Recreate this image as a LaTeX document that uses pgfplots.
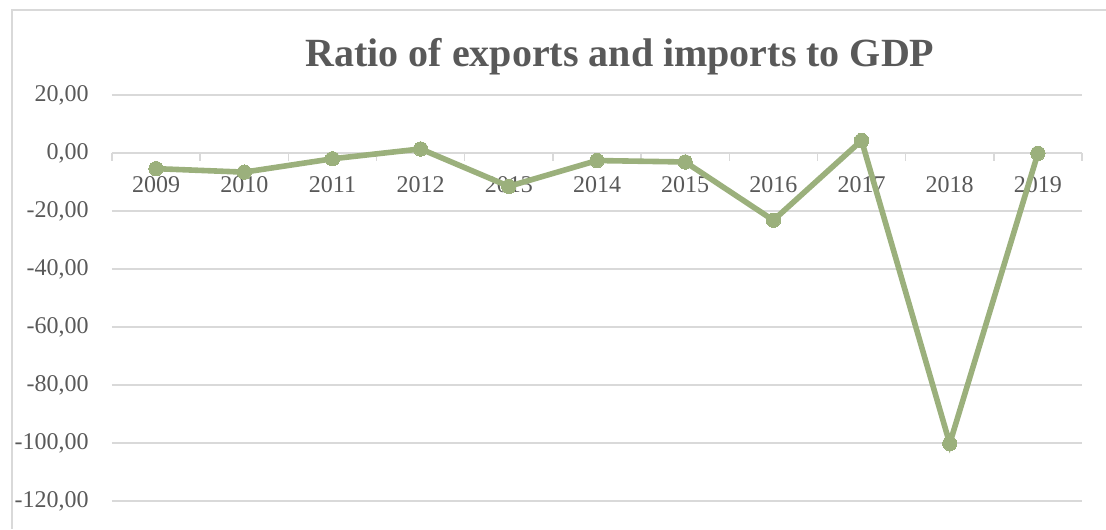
\documentclass[border=0pt]{standalone}
\usepackage{fontspec}
\setmainfont{Liberation Serif}
\usepackage{pgfplots}
\pgfplotsset{compat=1.18}
\definecolor{linegreen}{RGB}{155,176,124}
\definecolor{txtgray}{RGB}{89,89,89}
\definecolor{gridgray}{RGB}{217,217,217}
\begin{document}
\begin{tikzpicture}
\useasboundingbox (-56pt,-14pt) rectangle (497pt,250.5pt);
\draw[gridgray, line width=0.75pt] (-50pt,-14pt) -- (-50pt,245.5pt) -- (497pt,245.5pt);
\begin{axis}[
  at={(0pt,0pt)}, anchor=south west,
  scale only axis, width=485pt, height=203pt,
  xmin=-0.5, xmax=10.5, ymin=-120, ymax=20,
  clip=false,
  axis x line=middle, axis y line=left,
  x axis line style={-, gridgray, line width=0.75pt},
  y axis line style={draw=none},
  xtick={0,...,10},
  xticklabels={2009,2010,2011,2012,2013,2014,2015,2016,2017,2018,2019},
  minor xtick={-0.5,0.5,...,10.5},
  major x tick style={draw=none},
  minor x tick style={gridgray, line width=0.75pt},
  minor tick length=4pt,
  xtick align=outside,
  ytick={-120,-100,...,20},
  ytick style={draw=none},
  ymajorgrids,
  major grid style={gridgray, line width=0.75pt},
  /pgf/number format/.cd, fixed, fixed zerofill, precision=2, use comma, assume math mode=true,
  /pgfplots/.cd,
  tick label style={font=\fontsize{12}{13}\selectfont, text=txtgray},
  xticklabel style={yshift=-4pt},
  yticklabel style={xshift=-6pt},
]
\addplot[linegreen, line width=2.8pt, mark=*, mark size=3.6pt,
  mark options={fill=linegreen, draw=linegreen, line width=0pt}]
  coordinates {
  (0,-5.4) (1,-6.6) (2,-2.0) (3,1.4) (4,-11.5) (5,-2.6)
  (6,-3.1) (7,-23.2) (8,4.3) (9,-100.2) (10,-0.1)
  };
\end{axis}
\node[font=\bfseries\fontsize{20}{24}\selectfont, text=txtgray] at (254pt,222pt) {Ratio of exports and imports to GDP};
\end{tikzpicture}
\end{document}
